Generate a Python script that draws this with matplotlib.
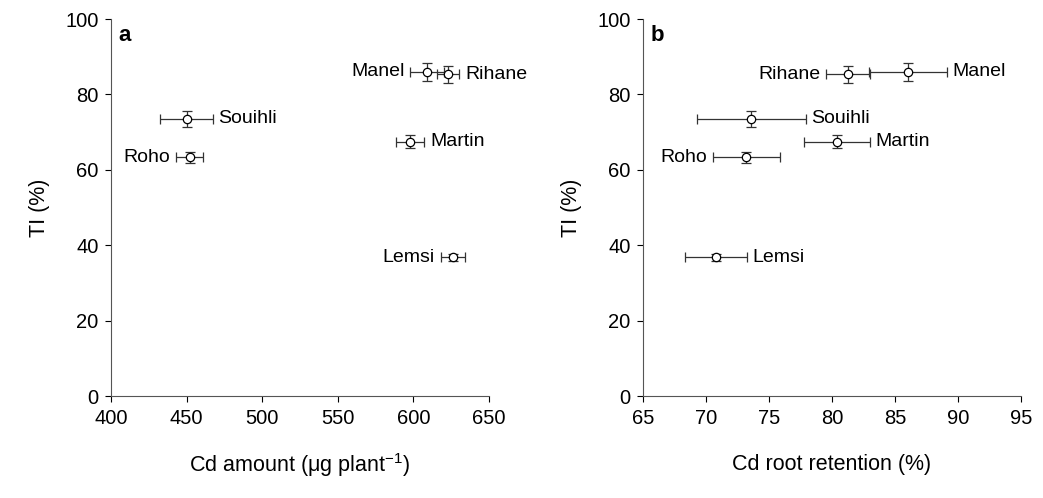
"""TI vs Cd amount / Cd root retention for six cultivars."""

import matplotlib
matplotlib.use("Agg")
import matplotlib.pyplot as plt

plt.rcParams["font.family"] = ["Liberation Sans", "DejaVu Sans"]
plt.rcParams["mathtext.fontset"] = "custom"
plt.rcParams["mathtext.rm"] = "Liberation Sans"

cultivars = ["Manel", "Rihane", "Souihli", "Martin", "Roho", "Lemsi"]
ti = [86.0, 85.3, 73.5, 67.5, 63.3, 36.8]
ti_err = [2.4, 2.3, 2.1, 1.8, 1.5, 0.9]

cd_amount = [609, 623, 450, 598, 452, 626]
cd_amount_err = [11.0, 7.5, 17.5, 9.3, 9.0, 8.0]

root_ret = [86.0, 81.3, 73.6, 80.4, 73.2, 70.8]
root_ret_err = [3.1, 1.75, 4.3, 2.6, 2.65, 2.45]

# which side of the point each label sits on
side_a = {"Manel": "left", "Rihane": "right", "Souihli": "right",
          "Martin": "right", "Roho": "left", "Lemsi": "left"}
side_b = {"Manel": "right", "Rihane": "left", "Souihli": "right",
          "Martin": "right", "Roho": "left", "Lemsi": "right"}


def panel(ax, x, xerr, side, xlim, xticks, xlabel, letter):
    ax.errorbar(x, ti, xerr=xerr, yerr=ti_err, fmt="o", color="black",
                mfc="white", mec="black", ms=6, mew=0.9, elinewidth=0.9,
                ecolor="#333333", capsize=3.5, capthick=0.9)
    for name, xv, xe, yv in zip(cultivars, x, xerr, ti):
        if side[name] == "left":
            ax.annotate(name, (xv - xe, yv), xytext=(-4, 0),
                        textcoords="offset points", ha="right", va="center",
                        fontsize=14)
        else:
            ax.annotate(name, (xv + xe, yv), xytext=(4, 0),
                        textcoords="offset points", ha="left", va="center",
                        fontsize=14)
    ax.set_xlim(*xlim)
    ax.set_ylim(0, 100)
    ax.set_xticks(xticks)
    ax.set_yticks(range(0, 101, 20))
    ax.tick_params(direction="out", length=4, labelsize=14.5, pad=5)
    for s in ("top", "right"):
        ax.spines[s].set_visible(False)
    for s in ("left", "bottom"):
        ax.spines[s].set_color("#555555")
    ax.set_ylabel("TI (%)", fontsize=15.5, va="center")
    ax.yaxis.set_label_coords(-0.19, 0.5)
    ax.set_xlabel(xlabel, fontsize=15.5, va="center")
    ax.xaxis.set_label_coords(0.5, -0.183)
    ax.text(0.02, 0.985, letter, transform=ax.transAxes, fontsize=16,
            fontweight="bold", ha="left", va="top")


fig = plt.figure(figsize=(10.43, 4.98), dpi=100)
ax_a = fig.add_axes([0.1064, 0.2048, 0.3624, 0.757])
ax_b = fig.add_axes([0.6165, 0.2048, 0.3624, 0.757])

panel(ax_a, cd_amount, cd_amount_err, side_a, (400, 650),
      range(400, 651, 50), "Cd amount (\u03bcg plant$^{\\mathregular{-1}}$)", "a")
panel(ax_b, root_ret, root_ret_err, side_b, (65, 95),
      range(65, 96, 5), "Cd root retention (%)", "b")

fig.savefig("out.png", dpi=100)
